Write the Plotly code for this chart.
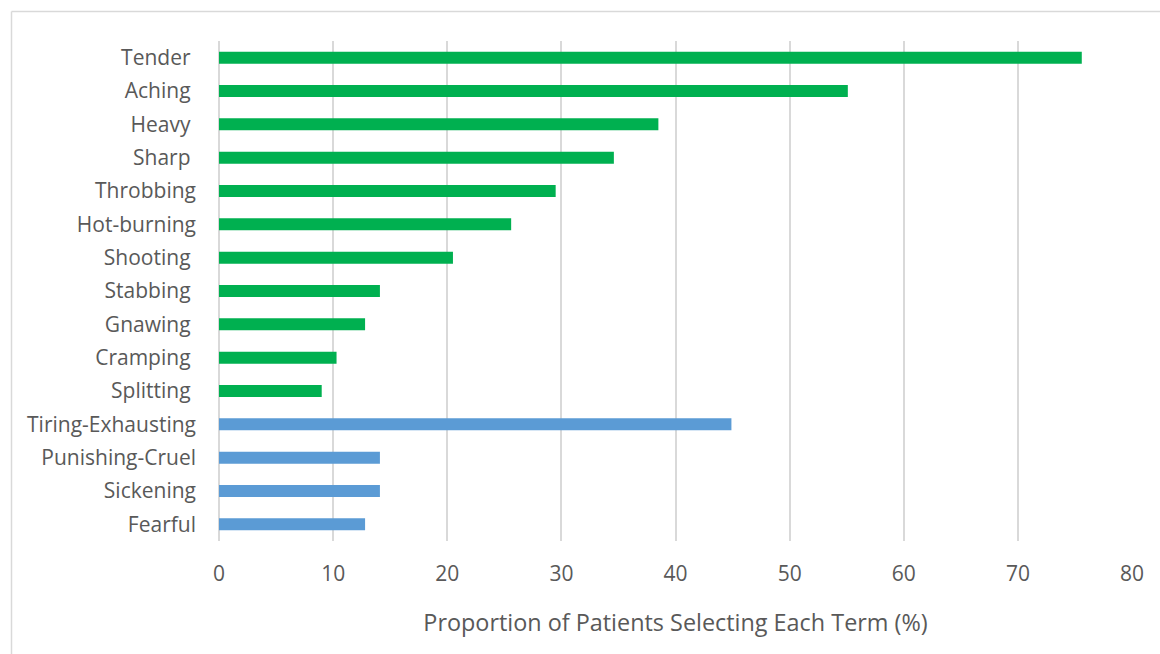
import plotly.graph_objects as go

# Data
categories = ["Tender", "Aching", "Heavy", "Sharp", "Throbbing", "Hot-burning",
              "Shooting", "Stabbing", "Gnawing", "Cramping", "Splitting",
              "Tiring-Exhausting", "Punishing-Cruel", "Sickening", "Fearful"]
tick_labels = ["Tender\u00a0", "Aching\u00a0", "Heavy\u00a0", "Sharp\u00a0", "Throbbing",
               "Hot-burning", "Shooting\u00a0", "Stabbing\u00a0", "Gnawing\u00a0",
               "Cramping\u00a0", "Splitting\u00a0", "Tiring-Exhausting",
               "Punishing-Cruel", "Sickening", "Fearful"]
values = [75.6, 55.1, 38.5, 34.6, 29.5, 25.6, 20.5, 14.1, 12.8, 10.3, 9.0,
          44.9, 14.1, 14.1, 12.8]
groups = ["sensory"] * 11 + ["affective"] * 4
group_colors = {"sensory": "#00B050", "affective": "#5B9BD5"}
x_ticks = [0, 10, 20, 30, 40, 50, 60, 70, 80]
x_title = "Proportion of Patients Selecting Each Term (%)"

W, H = 1160, 654
ML, MR, MT, MB = 219, 28, 41, 113
PW, PH = W - ML - MR, H - MT - MB

FONT = dict(family="Open Sans", size=21, color="#595959")
TITLE_FONT = dict(family="Open Sans", size=23.4, color="#595959")

fig = go.Figure()
fig.add_trace(go.Bar(
    y=categories, x=values, orientation="h",
    marker=dict(color=[group_colors[g] for g in groups], line=dict(width=0)),
    showlegend=False, hoverinfo="x+y",
))

def px_x(p):
    return (p - ML) / PW

def px_y(p):
    return (H - MB - p) / PH

# outer chart border (top and left visible)
fig.add_shape(type="line", xref="paper", yref="paper",
              x0=px_x(11.5), x1=px_x(1170), y0=px_y(11.5), y1=px_y(11.5),
              line=dict(color="#D9D9D9", width=1.5))
fig.add_shape(type="line", xref="paper", yref="paper",
              x0=px_x(11.5), x1=px_x(11.5), y0=px_y(11.5), y1=px_y(670),
              line=dict(color="#D9D9D9", width=1.5))

fig.update_layout(
    width=W, height=H,
    margin=dict(l=ML, r=MR, t=MT, b=MB, pad=0),
    paper_bgcolor="white", plot_bgcolor="white",
    bargap=0.64,
    font=FONT,
    xaxis=dict(
        range=[0, 80], tickvals=x_ticks, ticktext=[str(v) for v in x_ticks],
        showgrid=True, gridcolor="#D9D9D9", gridwidth=2,
        zeroline=True, zerolinecolor="#D9D9D9", zerolinewidth=2,
        showline=False, ticks="", tickfont=FONT, ticklabelstandoff=18,
        title=dict(text=x_title, font=TITLE_FONT, standoff=28),
        fixedrange=True,
    ),
    yaxis=dict(
        type="category", categoryorder="array", categoryarray=categories,
        autorange="reversed",
        tickvals=categories, ticktext=tick_labels,
        showgrid=False, zeroline=False, showline=False, ticks="",
        tickfont=FONT, ticklabelstandoff=22,
        fixedrange=True,
    ),
)

fig.write_html("out.html")
